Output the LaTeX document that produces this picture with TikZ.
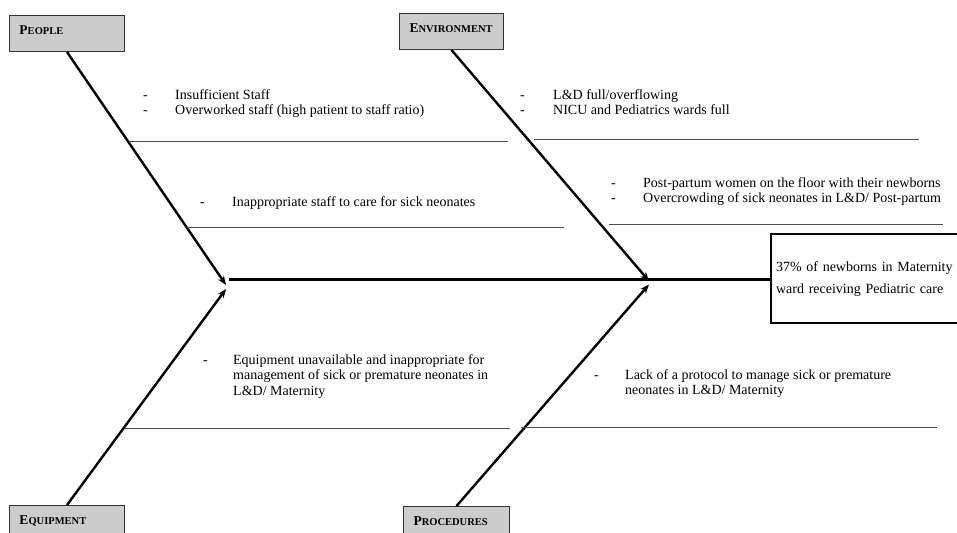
\documentclass[tikz,border=0pt]{standalone}
\usepackage{fontspec}
\setmainfont{Liberation Serif}
\usetikzlibrary{arrows.meta}
\newcommand\hcap[2]{{\fontsize{13.5}{13.5}\selectfont #1}{\fontsize{10.5}{10.5}\selectfont #2}}
\tikzset{
  catbox/.style={draw=black!80, line width=1pt, fill=black!20, anchor=north west,
    inner xsep=10pt, inner ysep=5pt, text height=14pt, text depth=12pt, align=left,
    font=\bfseries},
  bone/.style={line width=2.4pt, -{Stealth[length=9pt,width=7pt]}},
  rib/.style={line width=0.9pt, draw=black!70},
  spine/.style={line width=3pt},
  causes/.style={anchor=base west, inner sep=0pt, font=\fontsize{14}{15.3}\selectfont},
  effectbox/.style={draw, line width=2.2pt, anchor=north west, minimum width=200pt,
    minimum height=89pt, inner xsep=5pt, text width=190pt, align=left,
    font=\fontsize{14}{22}\selectfont},
}
\begin{document}
\begin{tikzpicture}[x=1pt,y=-1pt]
\useasboundingbox (0,0) rectangle (957,532);
\clip (0,0) rectangle (957,532);
% category boxes
\node[catbox, text width=95pt] (people) at (9,15) {\hcap{P}{EOPLE}};
\node[catbox, text width=84pt] (env) at (399,13) {\hcap{E}{NVIRONMENT}};
\node[catbox, text width=95pt] (equip) at (9,505) {\hcap{E}{QUIPMENT}};
\node[catbox, text width=86pt] (proc) at (403,506) {\hcap{P}{ROCEDURES}};
% effect
\node[effectbox] (effect) at (770,233) {37\% of newborns in Maternity\\ward receiving Pediatric care};
% spine
\coordinate (spinestart) at (229,279.5);
\draw[spine] (spinestart) -- (spinestart -| effect.west);
% arrow tips
\coordinate (tipP) at (226,285);
\coordinate (tipQ) at (226,289);
\coordinate (tipE) at (649,281);
\coordinate (tipR) at (649,284.5);
\draw[bone] (people.south) -- (tipP);
\draw[bone] (equip.north) -- (tipQ);
\draw[bone] (env.south) -- (tipE);
\draw[bone] (proc.north) -- (tipR);
% ribs
\coordinate (r1a) at (129,141); \coordinate (r1b) at (508,141);
\coordinate (r2a) at (534,139); \coordinate (r2b) at (919,139);
\coordinate (r3a) at (187,227); \coordinate (r3b) at (564,227);
\coordinate (r4a) at (609,224); \coordinate (r4b) at (943,224);
\coordinate (r5a) at (125,428); \coordinate (r5b) at (510,428);
\coordinate (r6a) at (521,427); \coordinate (r6b) at (937,427);
\draw[rib] (r1a) -- (r1b);
\draw[rib] (r2a) -- (r2b);
\draw[rib] (r3a) -- (r3b);
\draw[rib] (r4a) -- (r4b);
\draw[rib] (r5a) -- (r5b);
\draw[rib] (r6a) -- (r6b);
% causes
\node[causes] (c1) at (143,99.5) {\begin{tabular}[t]{@{}p{32pt}@{}l@{}}-&Insufficient Staff\\-&Overworked staff (high patient to staff ratio)\end{tabular}};
\node[causes] (c2) at (520,99.5) {\begin{tabular}[t]{@{}p{33pt}@{}l@{}}-&L\&D full/overflowing\\-&NICU and Pediatrics wards full\end{tabular}};
\node[causes] (c3) at (200,206.5) {\begin{tabular}[t]{@{}p{32pt}@{}l@{}}-&Inappropriate staff to care for sick neonates\end{tabular}};
\node[causes] (c4) at (611,187.5) {\begin{tabular}[t]{@{}p{32pt}@{}l@{}}-&Post-partum women on the floor with their newborns\\-&Overcrowding of sick neonates in L\&D/ Post-partum\end{tabular}};
\node[causes] (c5) at (203,364.5) {\begin{tabular}[t]{@{}p{30pt}@{}l@{}}-&Equipment unavailable and inappropriate for\\&management of sick or premature neonates in\\&L\&D/ Maternity\end{tabular}};
\node[causes] (c6) at (594,379.5) {\begin{tabular}[t]{@{}p{31pt}@{}l@{}}-&Lack of a protocol to manage sick or premature\\&neonates in L\&D/ Maternity\end{tabular}};
\end{tikzpicture}
\end{document}
